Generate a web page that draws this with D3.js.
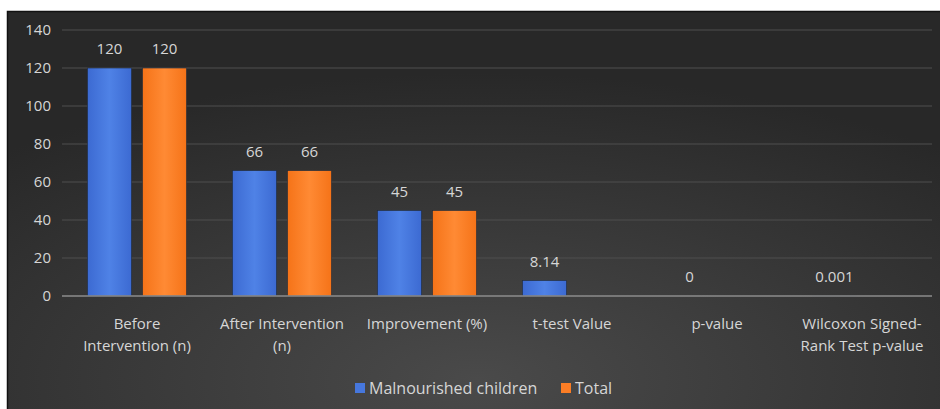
<!DOCTYPE html>
<html>
<head>
<meta charset="utf-8">
<script src="https://cdn.jsdelivr.net/npm/d3@7/dist/d3.min.js"></script>
<style>
  html, body { margin: 0; padding: 0; background: #ffffff; }
  svg { display: block; }
  text { font-family: "Open Sans", "Liberation Sans", Arial, sans-serif; }
</style>
</head>
<body>
<svg id="chart" width="940" height="409"></svg>
<script>
// Category labels ("\n" marks a line break in the axis label)
const categories = [
  "Before\nIntervention (n)",
  "After Intervention\n(n)",
  "Improvement (%)",
  "t-test Value",
  "p-value",
  "Wilcoxon Signed-\nRank Test p-value"
];
const seriesNames = ["Malnourished children", "Total"];
const malnourished = [120, 66, 45, 8.14, 0, 0.001];
const total = [120, 66, 45, null, null, null];
const yTicks = [0, 20, 40, 60, 80, 100, 120, 140];

const svg = d3.select("#chart");
const W = 940, H = 409;
const FONT = "\"Open Sans\", \"Liberation Sans\", Arial, sans-serif";
const TXT = "#d6d6d6";

// Chart background panel with soft radial shading
const defs = svg.append("defs");
const bg = defs.append("radialGradient").attr("id", "bgGrad")
  .attr("cx", "50%").attr("cy", "90%").attr("r", "75%");
bg.append("stop").attr("offset", "0%").attr("stop-color", "#4a4a4a");
bg.append("stop").attr("offset", "100%").attr("stop-color", "#282828");

function barGradient(id, edge, mid) {
  const g = defs.append("linearGradient").attr("id", id)
    .attr("x1", "0%").attr("x2", "100%").attr("y1", "0%").attr("y2", "0%");
  g.append("stop").attr("offset", "0%").attr("stop-color", edge);
  g.append("stop").attr("offset", "50%").attr("stop-color", mid);
  g.append("stop").attr("offset", "100%").attr("stop-color", edge);
}
barGradient("blueGrad", "#3c6ad2", "#4f82e6");
barGradient("orangeGrad", "#f57318", "#ff8a34");

svg.append("rect")
  .attr("x", 7.5).attr("y", 11.5)
  .attr("width", W).attr("height", H)
  .attr("fill", "url(#bgGrad)")
  .attr("stroke", "#111").attr("stroke-width", 1.5);

const x0 = d3.scaleBand()
  .domain(categories)
  .range([64.5, 934.5])
  .paddingInner(0.317)
  .paddingOuter(0.1585);
const x1 = d3.scaleBand()
  .domain(seriesNames)
  .range([0, x0.bandwidth()])
  .paddingInner(0.2);
const y = d3.scaleLinear().domain([0, 140]).range([296, 30]);

// Horizontal gridlines
svg.append("g")
  .selectAll("line")
  .data(yTicks.filter(d => d > 0))
  .join("line")
  .attr("x1", 62).attr("x2", 932)
  .attr("y1", d => y(d)).attr("y2", d => y(d))
  .attr("stroke", "#4e4e4e").attr("stroke-width", 1.2);

// Y axis tick labels
const yAxis = d3.axisLeft(y).tickValues(yTicks).tickSize(0).tickPadding(0);
const yg = svg.append("g").attr("transform", "translate(51,0)").call(yAxis);
yg.select(".domain").remove();
yg.selectAll("text")
  .attr("fill", TXT).attr("font-size", "15px")
  .attr("font-family", FONT);

// Bars
const colors = { "Malnourished children": "url(#blueGrad)", "Total": "url(#orangeGrad)" };
const rows = categories.map((c, i) => ({
  cat: c,
  vals: [
    { key: seriesNames[0], v: malnourished[i] },
    { key: seriesNames[1], v: total[i] }
  ]
}));

const groups = svg.append("g").selectAll("g")
  .data(rows).join("g")
  .attr("transform", d => `translate(${x0(d.cat)},0)`);

groups.selectAll("rect")
  .data(d => d.vals.filter(v => v.v !== null))
  .join("rect")
  .attr("x", d => x1(d.key))
  .attr("width", x1.bandwidth())
  .attr("y", d => y(d.v))
  .attr("height", d => y(0) - y(d.v))
  .attr("fill", d => colors[d.key])
  .attr("stroke", "#1f2a3a").attr("stroke-width", 0.6);

// Data labels
groups.selectAll("text.val")
  .data(d => d.vals.filter(v => v.v !== null))
  .join("text")
  .attr("class", "val")
  .attr("x", d => x1(d.key) + x1.bandwidth() / 2)
  .attr("y", d => y(d.v) - 14)
  .attr("text-anchor", "middle")
  .attr("fill", TXT)
  .attr("font-size", "15px")
  .text(d => d.v);

// Baseline axis
svg.append("line")
  .attr("x1", 62).attr("x2", 932)
  .attr("y1", y(0)).attr("y2", y(0))
  .attr("stroke", "#8c8c8c").attr("stroke-width", 1.5);

// Category labels
const xAxis = d3.axisBottom(x0).tickSize(0).tickFormat(() => "");
const xg = svg.append("g").attr("transform", `translate(0,${y(0)})`).call(xAxis);
xg.select(".domain").remove();
xg.selectAll(".tick").each(function (d) {
  const t = d3.select(this).append("text")
    .attr("text-anchor", "middle")
    .attr("fill", TXT)
    .attr("font-size", "15px")
    .attr("font-family", FONT);
  d.split("\n").forEach((line, i) => {
    t.append("tspan").attr("x", 0).attr("y", 33 + i * 22).text(line);
  });
});

// Legend
const legend = svg.append("g").attr("transform", "translate(0,388)");
const legendItems = [
  { key: seriesNames[0], x: 355, color: "#4677dd" },
  { key: seriesNames[1], x: 561, color: "#fb7d25" }
];
legendItems.forEach(it => {
  legend.append("rect")
    .attr("x", it.x).attr("y", -5).attr("width", 10).attr("height", 10)
    .attr("fill", it.color);
  legend.append("text")
    .attr("x", it.x + 14).attr("y", 5.5)
    .attr("fill", TXT).attr("font-size", "16px")
    .text(it.key);
});
</script>
</body>
</html>
